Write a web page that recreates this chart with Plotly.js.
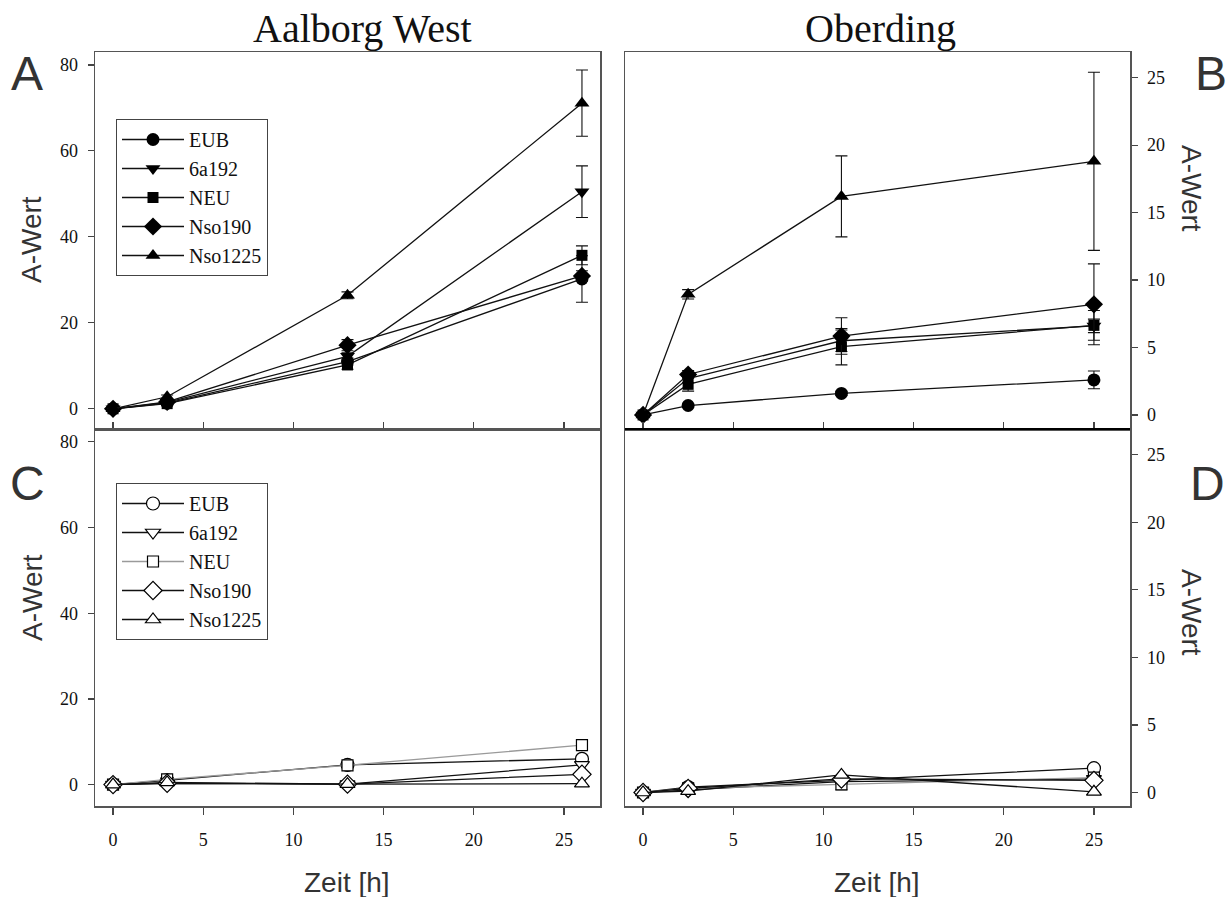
<!DOCTYPE html>
<html>
<head>
<meta charset="utf-8">
<script src="https://cdn.plot.ly/plotly-3.0.1.min.js"></script>
<style>html,body{margin:0;padding:0;background:#fff;}#chart{width:1232px;height:897px;}</style>
</head>
<body>
<div id="chart"></div>
<script>
// ---------- data ----------
const seriesNames = ['EUB', '6a192', 'NEU', 'Nso190', 'Nso1225'];
const timeAalborg = [0, 3, 13, 26];
const timeOberding = [0, 2.5, 11, 25];

// Panel A: Aalborg West (filled symbols)
const aEUB     = [0, 1.3, 11.0, 30.2];
const a6a192   = [0, 1.5, 12.2, 50.5];
const aNEU     = [0, 1.2, 10.2, 35.7];
const aNso190  = [0, 1.6, 14.8, 30.9];
const aNso1225 = [0, 2.8, 26.4, 71.1];
const aEUBErr     = [0, 0.3, 0.8, 5.4];
const a6a192Err   = [0, 0.3, 0.8, 6.0];
const aNEUErr     = [0, 0.3, 1.0, 2.2];
const aNso190Err  = [0, 0.3, 1.3, 1.2];
const aNso1225Err = [0, 0.4, 0.8, 7.7];

// Panel B: Oberding (filled symbols)
const bEUB     = [0, 0.7, 1.6, 2.6];
const b6a192   = [0, 2.7, 5.5, 6.6];
const bNEU     = [0, 2.27, 5.06, 6.64];
const bNso190  = [0, 3.0, 5.85, 8.2];
const bNso1225 = [0, 8.94, 16.2, 18.8];
const bEUBErr     = [0, 0.1, 0.15, 0.66];
const b6a192Err   = [0, 0.3, 0.8, 0.5];
const bNEUErr     = [0, 0.5, 1.35, 1.1];
const bNso190Err  = [0, 0.3, 1.35, 3.0];
const bNso1225Err = [0, 0.35, 3.0, 6.6];

// Panel C: Aalborg West (open symbols)
const cEUB     = [0, 1.0, 4.6, 6.0];
const c6a192   = [0, 0.3, 0.1, 4.6];
const cNEU     = [0, 1.2, 4.5, 9.2];
const cNso190  = [0, 0.3, 0.1, 2.4];
const cNso1225 = [0, 0.5, 0.1, 0.2];

// Panel D: Oberding (open symbols)
const dEUB     = [0, 0.4, 0.9, 1.8];
const d6a192   = [0, 0.2, 0.8, 1.0];
const dNEU     = [0, 0.3, 0.6, 1.1];
const dNso190  = [0, 0.3, 1.0, 0.9];
const dNso1225 = [0, 0.1, 1.3, 0.05];
const dNEUErr  = [0, 0, 0.4, 0.3];

const yTicksLeft = [0, 20, 40, 60, 80];
const yTicksRight = [0, 5, 10, 15, 20, 25];
const xTicks = [0, 5, 10, 15, 20, 25];

// ---------- styles ----------
const symbols = ['circle', 'triangle-down', 'square', 'diamond', 'triangle-up'];
const sizes = [13, 13, 11, 14, 13];
const SERIF = '"Liberation Serif", "Times New Roman", serif';
const SANS = '"Liberation Sans", Arial, sans-serif';

const dataA = [aEUB, a6a192, aNEU, aNso190, aNso1225];
const errA = [aEUBErr, a6a192Err, aNEUErr, aNso190Err, aNso1225Err];
const dataB = [bEUB, b6a192, bNEU, bNso190, bNso1225];
const errB = [bEUBErr, b6a192Err, bNEUErr, bNso190Err, bNso1225Err];
const dataC = [cEUB, c6a192, cNEU, cNso190, cNso1225];
const dataD = [dEUB, d6a192, dNEU, dNso190, dNso1225];
const errD = [null, null, dNEUErr, null, null];

const traces = [];
function addPanel(x, ys, errs, xa, ya, open, legendName, showLegend) {
  ys.forEach((y, i) => {
    const t = {
      x: x, y: y, xaxis: xa, yaxis: ya, type: 'scatter', mode: 'lines+markers',
      name: seriesNames[i], showlegend: showLegend, legend: legendName,
      line: {color: (open && i === 2) ? '#9a9a9a' : '#111', width: 1.3},
      marker: {symbol: symbols[i], size: sizes[i],
        color: open ? '#ffffff' : '#000000',
        line: {color: '#000', width: open ? 1.2 : 0}},
      cliponaxis: false
    };
    if (errs && errs[i]) {
      t.error_y = {type: 'data', array: errs[i], visible: true, color: '#111', thickness: 1.1, width: 6};
    }
    traces.push(t);
  });
}
addPanel(timeAalborg, dataA, errA, 'x', 'y', false, 'legend', true);
addPanel(timeOberding, dataB, errB, 'x2', 'y2', false, 'legend', false);
addPanel(timeAalborg, dataC, null, 'x3', 'y3', true, 'legend2', true);
addPanel(timeOberding, dataD, errD, 'x4', 'y4', true, 'legend2', false);

// ---------- layout ----------
const L = 95, R = 1130, T = 52, B = 806;
const W = R - L, H = B - T;
const px = v => (v - L) / W;
const py = v => (B - v) / H;
const splitL = px(600), splitR = px(625);

const tickFont = {family: SERIF, size: 18, color: '#111'};
function xax(domain, anchor, labels) {
  return {domain: domain, anchor: anchor, range: [-1, 27], tickvals: xTicks,
    showticklabels: labels, ticks: labels ? 'outside' : 'inside', ticklen: 7, tickcolor: '#444', tickwidth: 1.2,
    showline: true, mirror: true, linecolor: '#555', linewidth: 1.5,
    showgrid: false, zeroline: false, tickfont: tickFont, ticklabelstandoff: 10};
}
function yax(domain, anchor, side, range, ticks) {
  return {domain: domain, anchor: anchor, side: side, range: range, tickvals: ticks,
    ticks: 'outside', ticklen: 6, tickcolor: '#444', tickwidth: 1.2,
    showline: true, mirror: true, linecolor: '#555', linewidth: 1.5,
    showgrid: false, zeroline: false, tickfont: tickFont, ticklabelstandoff: 6};
}

function ann(text, x, y, size, family, angle, color) {
  return {text: text, xref: 'paper', yref: 'paper', x: px(x), y: py(y),
    xanchor: 'center', yanchor: 'middle', showarrow: false, textangle: angle || 0,
    font: {family: family, size: size, color: color || '#333'}};
}

const legendBase = {xanchor: 'left', yanchor: 'top', bgcolor: '#fff', bordercolor: '#444', borderwidth: 1,
  font: {family: SERIF, size: 20, color: '#111'}, itemwidth: 62, tracegroupgap: 0};

const layout = {
  width: 1232, height: 897,
  margin: {l: L, r: 1232 - R, t: T, b: 897 - B, pad: 0},
  paper_bgcolor: '#fff', plot_bgcolor: '#fff',
  showlegend: true,
  xaxis: xax([0, splitL], 'y', false),
  yaxis: yax([0.5, 1], 'x', 'left', [-4.7, 83], yTicksLeft),
  xaxis2: xax([splitR, 1], 'y2', false),
  yaxis2: yax([0.5, 1], 'x2', 'right', [-1.04, 26.9], yTicksRight),
  xaxis3: xax([0, splitL], 'y3', true),
  yaxis3: yax([0, 0.5], 'x3', 'left', [-5, 83], yTicksLeft),
  xaxis4: xax([splitR, 1], 'y4', true),
  yaxis4: yax([0, 0.5], 'x4', 'right', [-1, 26.9], yTicksRight),
  legend: Object.assign({x: px(116), y: py(119)}, legendBase),
  legend2: Object.assign({x: px(116), y: py(483)}, legendBase),
  shapes: [
    {type: 'line', xref: 'paper', yref: 'paper', x0: splitR, x1: 1, y0: 0.5, y1: 0.5,
     line: {color: '#000', width: 2.2}}
  ],
  annotations: [
    ann('Aalborg West', 362, 28, 40, SERIF, 0, '#111'),
    ann('Oberding', 880, 28, 40, SERIF, 0, '#111'),
    ann('A', 27, 74, 48, SANS),
    ann('B', 1211, 74, 48, SANS),
    ann('C', 27, 484, 48, SANS),
    ann('D', 1207, 484, 48, SANS),
    ann('A-Wert', 32, 240, 28, SANS, -90),
    ann('A-Wert', 32, 598, 28, SANS, -90),
    ann('A-Wert', 1192, 188, 28, SANS, 90),
    ann('A-Wert', 1192, 612, 28, SANS, 90),
    ann('Zeit [h]', 347, 882, 28, SANS),
    ann('Zeit [h]', 877, 882, 28, SANS)
  ]
};

Plotly.newPlot('chart', traces, layout, {displayModeBar: false, staticPlot: true});
</script>
</body>
</html>
